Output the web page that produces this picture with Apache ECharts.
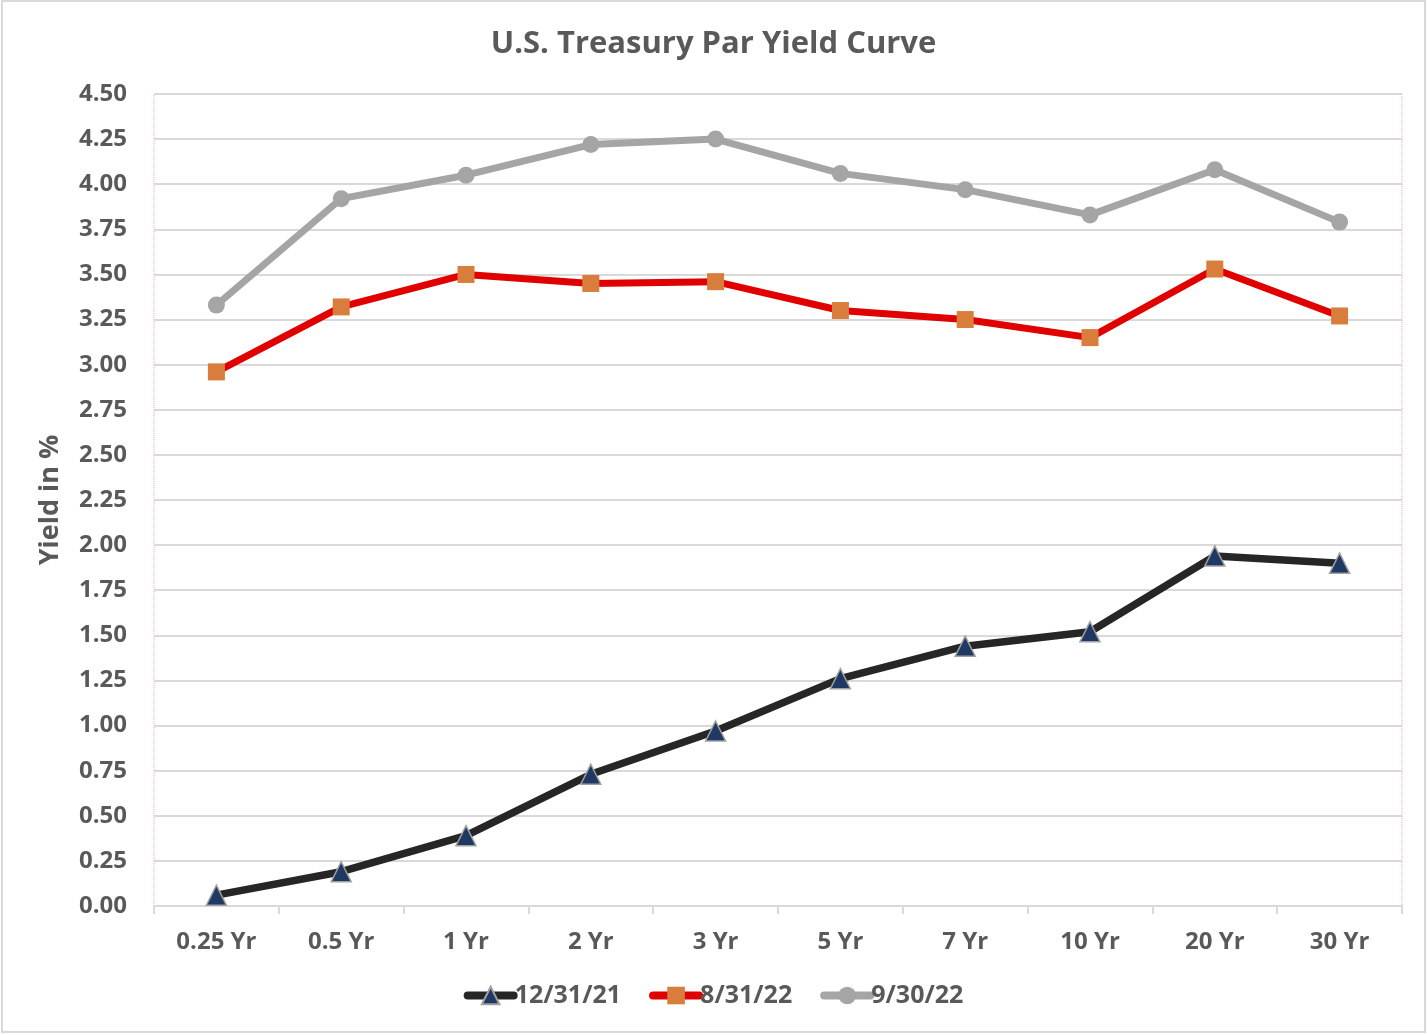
<!DOCTYPE html>
<html>
<head>
<meta charset="utf-8">
<script src="https://cdn.jsdelivr.net/npm/echarts@6/dist/echarts.min.js"></script>
<style>
  html, body { margin: 0; padding: 0; background: #fff; }
  #main { width: 1427px; height: 1035px; }
</style>
</head>
<body>
<div id="main"></div>
<script>
var maturities = ['0.25 Yr', '0.5 Yr', '1 Yr', '2 Yr', '3 Yr', '5 Yr', '7 Yr', '10 Yr', '20 Yr', '30 Yr'];
var yieldDec21 = [0.06, 0.19, 0.39, 0.73, 0.97, 1.26, 1.44, 1.52, 1.94, 1.90];
var yieldAug22 = [2.96, 3.32, 3.50, 3.45, 3.46, 3.30, 3.25, 3.15, 3.53, 3.27];
var yieldSep22 = [3.33, 3.92, 4.05, 4.22, 4.25, 4.06, 3.97, 3.83, 4.08, 3.79];

var chart = echarts.init(document.getElementById('main'));
var textColor = '#595959';
var font = '"Open Sans", Lato, sans-serif';

var option = {
  backgroundColor: '#fff',
  animation: false,
  textStyle: { fontFamily: font },
  graphic: [{
    type: 'rect',
    shape: { x: 2, y: 1, width: 1423, height: 1031 },
    style: { fill: 'none', stroke: '#d9d9d9', lineWidth: 2 },
    silent: true
  }],
  title: {
    text: 'U.S. Treasury Par Yield Curve',
    left: 'center',
    top: 24,
    textStyle: { fontFamily: font, fontSize: 31, fontWeight: 'bold', color: textColor }
  },
  legend: {
    bottom: 22,
    left: 'center',
    itemWidth: 46,
    itemHeight: 22,
    itemGap: 28,
    lineStyle: { width: 8, cap: 'round' },
    textStyle: { fontFamily: font, fontSize: 25, fontWeight: 'bold', color: textColor, padding: [0, 0, 0, -4] },
    data: ['12/31/21', '8/31/22', '9/30/22']
  },
  grid: {
    show: true,
    left: 154,
    right: 25,
    top: 94,
    bottom: 129,
    borderColor: '#f2a8a8',
    borderWidth: 1,
    borderType: 'dotted',
    containLabel: false
  },
  xAxis: {
    type: 'category',
    data: maturities,
    boundaryGap: true,
    axisLine: { lineStyle: { color: '#d9d9d9', width: 2 } },
    axisTick: { show: true, length: 8, lineStyle: { color: '#d9d9d9', width: 2 } },
    axisLabel: { margin: 24, fontSize: 24, fontWeight: 'bold', color: textColor, fontFamily: font }
  },
  yAxis: {
    type: 'value',
    min: 0,
    max: 4.5,
    interval: 0.25,
    name: 'Yield in %',
    nameLocation: 'middle',
    nameGap: 90,
    nameTextStyle: { fontSize: 27, fontWeight: 'bold', color: textColor, fontFamily: font },
    axisLine: { show: false },
    axisTick: { show: false },
    splitLine: { lineStyle: { color: '#d9d9d9', width: 2 } },
    axisLabel: {
      margin: 27,
      fontSize: 24,
      fontWeight: 'bold',
      color: textColor,
      fontFamily: font,
      formatter: function (v) { return v.toFixed(2); }
    }
  },
  series: [{
    name: '12/31/21',
    type: 'line',
    data: yieldDec21,
    symbol: 'triangle',
    symbolSize: 20,
    lineStyle: { color: '#262626', width: 7.5 },
    itemStyle: { color: '#203864', borderColor: '#a0a0a0', borderWidth: 1.5 },
    z: 3
  }, {
    name: '8/31/22',
    type: 'line',
    data: yieldAug22,
    symbol: 'rect',
    symbolSize: 17,
    lineStyle: { color: '#e00000', width: 7 },
    itemStyle: { color: '#d87d3c', borderWidth: 0 },
    z: 2
  }, {
    name: '9/30/22',
    type: 'line',
    data: yieldSep22,
    symbol: 'circle',
    symbolSize: 17,
    lineStyle: { color: '#a5a5a5', width: 7 },
    itemStyle: { color: '#a5a5a5', borderWidth: 0 },
    z: 1
  }]
};

chart.setOption(option);
</script>
</body>
</html>
